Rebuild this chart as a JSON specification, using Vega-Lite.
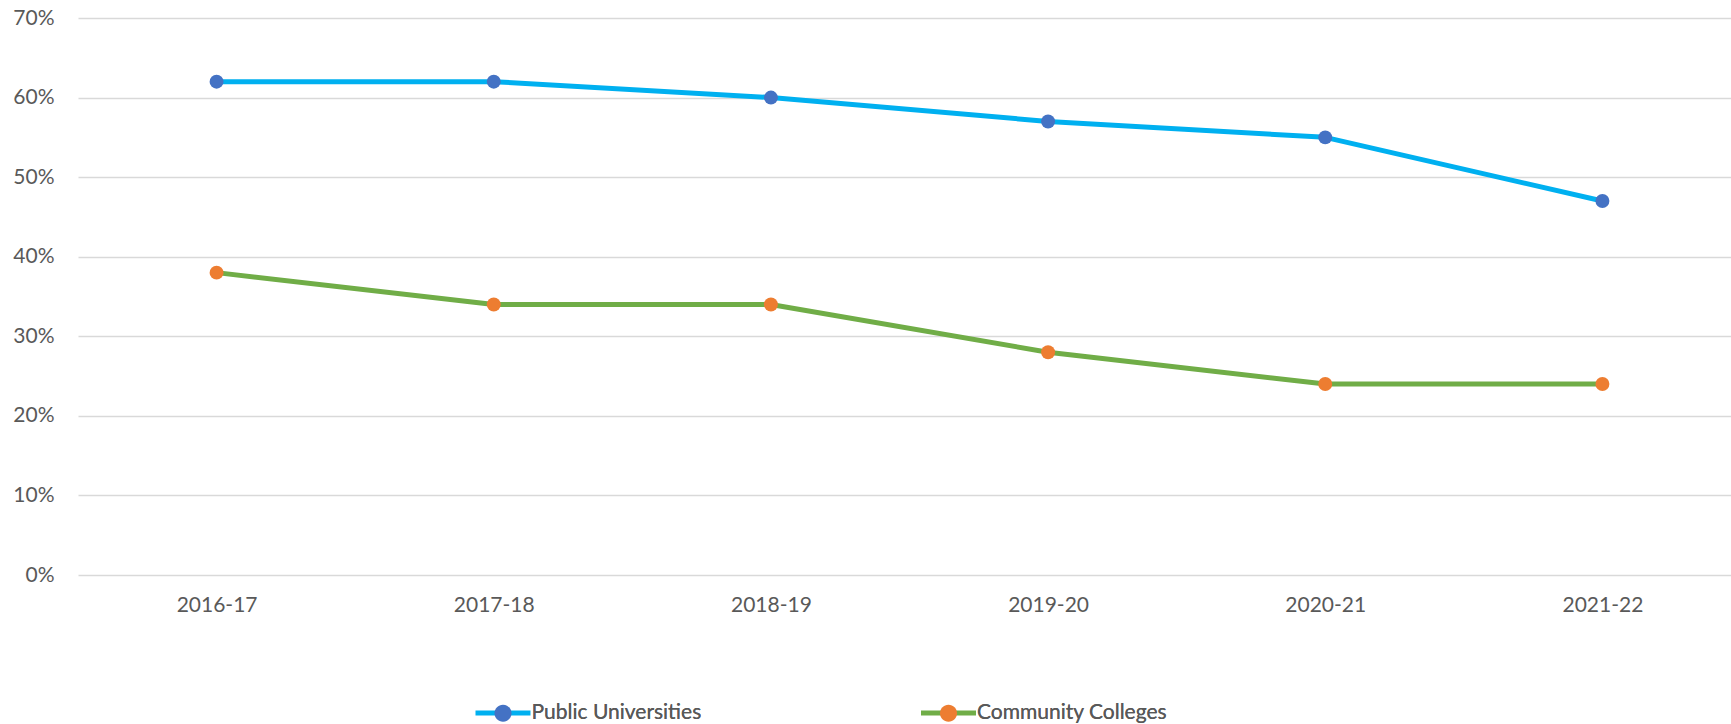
{
  "$schema": "https://vega.github.io/schema/vega-lite/v6.json",
  "width": 1653,
  "height": 557,
  "autosize": {"type": "none"},
  "padding": {"left": 78, "top": 18, "right": 0, "bottom": 149},
  "background": "white",
  "config": {
    "view": {"stroke": null},
    "font": "Lato",
    "axis": {"labelFont": "Lato", "labelColor": "#595959", "labelFontSize": 21, "title": null},
    "legend": {"labelFont": "Lato", "labelColor": "#595959", "labelFontSize": 21, "labelLimit": 0}
  },
  "data": {
    "values": [
      {"year": "2016-17", "series": "Public Universities", "value": 0.62},
      {"year": "2017-18", "series": "Public Universities", "value": 0.62},
      {"year": "2018-19", "series": "Public Universities", "value": 0.60},
      {"year": "2019-20", "series": "Public Universities", "value": 0.57},
      {"year": "2020-21", "series": "Public Universities", "value": 0.55},
      {"year": "2021-22", "series": "Public Universities", "value": 0.47},
      {"year": "2016-17", "series": "Community Colleges", "value": 0.38},
      {"year": "2017-18", "series": "Community Colleges", "value": 0.34},
      {"year": "2018-19", "series": "Community Colleges", "value": 0.34},
      {"year": "2019-20", "series": "Community Colleges", "value": 0.28},
      {"year": "2020-21", "series": "Community Colleges", "value": 0.24},
      {"year": "2021-22", "series": "Community Colleges", "value": 0.24}
    ]
  },
  "encoding": {
    "x": {
      "field": "year",
      "type": "ordinal",
      "scale": {"type": "point", "range": [0, 1663], "padding": 0.5},
      "axis": {"domain": false, "ticks": false, "grid": false, "labelAngle": 0, "labelPadding": 19}
    },
    "y": {
      "field": "value",
      "type": "quantitative",
      "scale": {"domain": [0, 0.7], "nice": false},
      "axis": {
        "format": ".0%",
        "values": [0, 0.1, 0.2, 0.3, 0.4, 0.5, 0.6, 0.7],
        "domain": false,
        "ticks": false,
        "grid": true,
        "gridColor": "#d9d9d9",
        "gridWidth": 1.5,
        "labelPadding": 24
      }
    }
  },
  "layer": [
    {
      "mark": {"type": "line", "strokeWidth": 5, "strokeCap": "round", "strokeJoin": "round"},
      "encoding": {
        "stroke": {
          "field": "series",
          "type": "nominal",
          "sort": "descending",
          "scale": {"range": ["#00B0F0", "#70AD47"]},
          "legend": {
            "title": null,
            "orient": "none",
            "direction": "horizontal",
            "legendX": 395,
            "legendY": 665,
            "symbolType": "stroke",
            "symbolSize": 3025,
            "symbolStrokeWidth": 5,
            "labelOffset": -1.5,
            "columnPadding": 208.5
          }
        }
      }
    },
    {
      "mark": {"type": "point", "filled": true, "opacity": 1, "size": 195, "shape": "circle"},
      "encoding": {
        "fill": {
          "field": "series",
          "type": "nominal",
          "scale": {"domain": ["Public Universities", "Community Colleges"], "range": ["#4472C4", "#ED7D31"]},
          "legend": {
            "title": null,
            "orient": "none",
            "direction": "horizontal",
            "legendX": 395,
            "legendY": 665,
            "symbolType": "M-1,0M1,0M-0.31,0A0.31,0.31,0,1,0,0.31,0A0.31,0.31,0,1,0,-0.31,0Z",
            "symbolSize": 3025,
            "symbolStrokeWidth": 5,
            "symbolStrokeColor": "transparent",
            "symbolOpacity": 1,
            "labelOffset": -1.5,
            "columnPadding": 208.5
          }
        }
      }
    }
  ]
}
